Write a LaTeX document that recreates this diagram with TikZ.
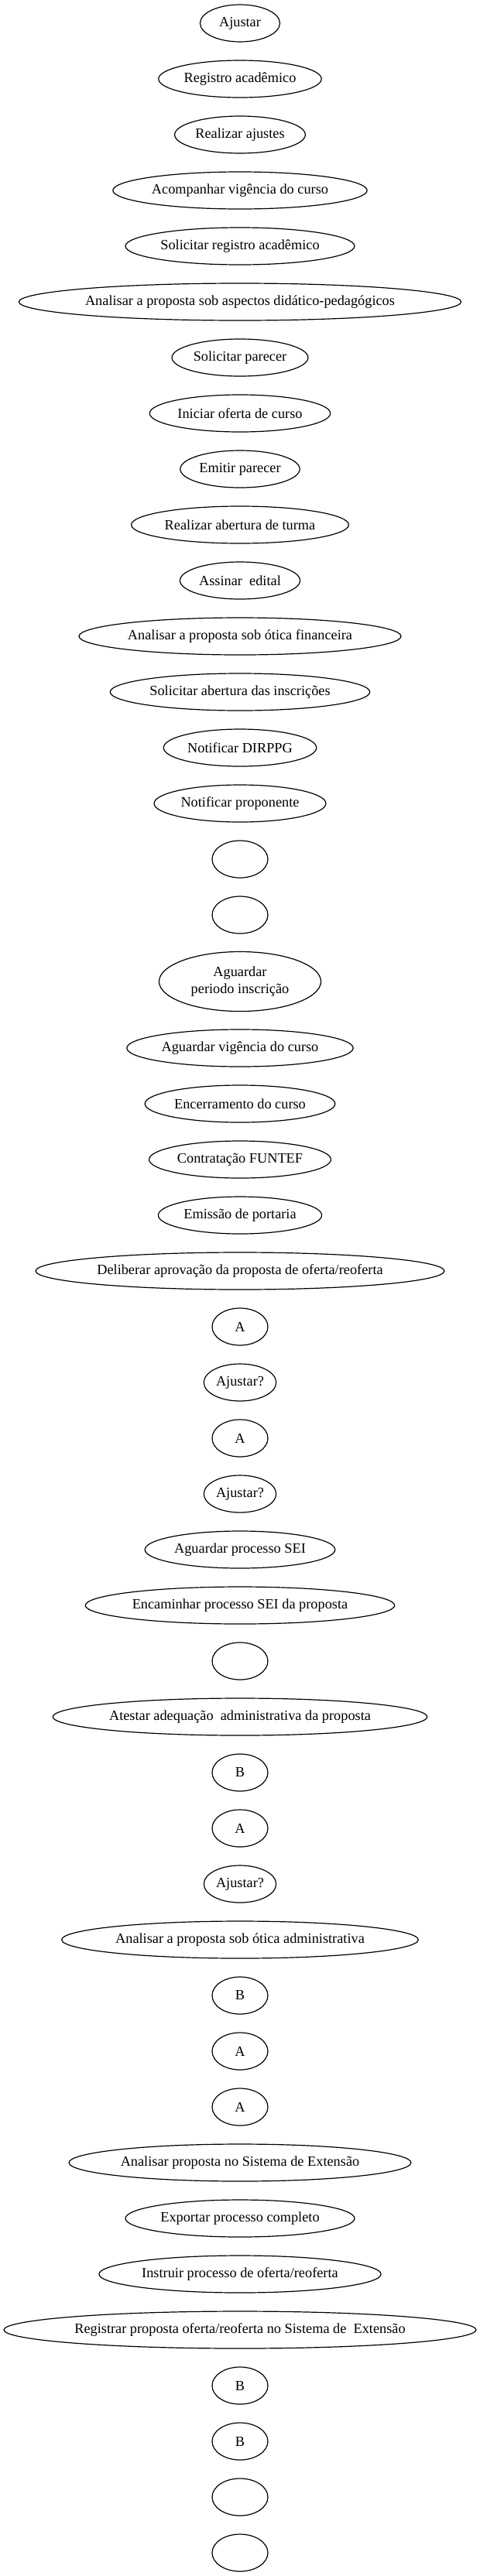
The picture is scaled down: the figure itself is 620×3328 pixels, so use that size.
\documentclass[tikz,border=0pt]{standalone}
\usepackage{fontspec}
\setmainfont{Liberation Serif}
\usetikzlibrary{shapes.geometric}

\newcommand{\actfont}{\fontsize{18.3}{22.4}\selectfont}
\newlength{\labw}
% ellipse just wide enough for its label (never below 72)
\newcommand{\actnode}[4][]{%
  \settowidth{\labw}{\actfont #4}%
  \node (#2) [act, #1, below of=#3, minimum width={max(72,1.381*(\labw+21.3))}] {#4};}

\begin{document}
\begin{tikzpicture}[x=1pt, y=1pt, node distance=72pt]
    \tikzstyle{act} = [ellipse, draw, line width=1.2pt, inner xsep=2pt, inner ysep=2pt, minimum height=48pt, font=\actfont]
    \tikzstyle{wait} = [act, inner xsep=10.65pt, minimum height=77pt, align=center]
    \useasboundingbox (0,0) rectangle (620,-3328);

    \node (ajustar) [act, minimum width=103pt] at (310,-30) {Ajustar};
    \actnode{registro}{ajustar}{Registro acadêmico}
    \actnode{realizar}{registro}{Realizar ajustes}
    \actnode{acompanhar}{realizar}{Acompanhar vigência do curso}
    \actnode{solReg}{acompanhar}{Solicitar registro acadêmico}
    \actnode{analDid}{solReg}{Analisar a proposta sob aspectos didático-pedagógicos}
    \actnode{solParecer}{analDid}{Solicitar parecer}
    \actnode{iniciar}{solParecer}{Iniciar oferta de curso}
    \actnode{emitir}{iniciar}{Emitir parecer}
    \actnode{abertura}{emitir}{Realizar abertura de turma}
    \actnode{assinar}{abertura}{Assinar\ \ edital}
    \actnode{analFin}{assinar}{Analisar a proposta sob ótica financeira}
    \actnode{solInsc}{analFin}{Solicitar abertura das inscrições}
    \actnode{notDir}{solInsc}{Notificar DIRPPG}
    \actnode{notProp}{notDir}{Notificar proponente}
    \actnode{e1}{notProp}{}
    \actnode{e2}{e1}{}
    % two lines, so a taller ellipse
    \node (aguardarInsc) [wait, node distance=86pt, below of=e2] {Aguardar\\periodo inscrição};
    \actnode[node distance=86pt]{aguardarVig}{aguardarInsc}{Aguardar vigência do curso}
    \actnode{encerrar}{aguardarVig}{Encerramento do curso}
    \actnode{funtef}{encerrar}{Contratação FUNTEF}
    \actnode{portaria}{funtef}{Emissão de portaria}
    \actnode{deliberar}{portaria}{Deliberar aprovação da proposta de oferta/reoferta}
    \actnode{a1}{deliberar}{A}
    \actnode{aj1}{a1}{Ajustar?}
    \actnode{a2}{aj1}{A}
    \actnode{aj2}{a2}{Ajustar?}
    \actnode{aguardarSei}{aj2}{Aguardar processo SEI}
    \actnode{encaminhar}{aguardarSei}{Encaminhar processo SEI da proposta}
    \actnode{e3}{encaminhar}{}
    \actnode{atestar}{e3}{Atestar adequação\ \ administrativa da proposta}
    \actnode{b1}{atestar}{B}
    \actnode{a3}{b1}{A}
    \actnode{aj3}{a3}{Ajustar?}
    \actnode{analAdm}{aj3}{Analisar a proposta sob ótica administrativa}
    \actnode{b2}{analAdm}{B}
    \actnode{a4}{b2}{A}
    \actnode{a5}{a4}{A}
    \actnode{analExt}{a5}{Analisar proposta no Sistema de Extensão}
    \actnode{exportar}{analExt}{Exportar processo completo}
    \actnode{instruir}{exportar}{Instruir processo de oferta/reoferta}
    \actnode{registrar}{instruir}{Registrar proposta oferta/reoferta no Sistema de\ \ Extensão}
    \actnode{b3}{registrar}{B}
    \actnode{b4}{b3}{B}
    \actnode{e4}{b4}{}
    \actnode{e5}{e4}{}

\end{tikzpicture}
\end{document}
